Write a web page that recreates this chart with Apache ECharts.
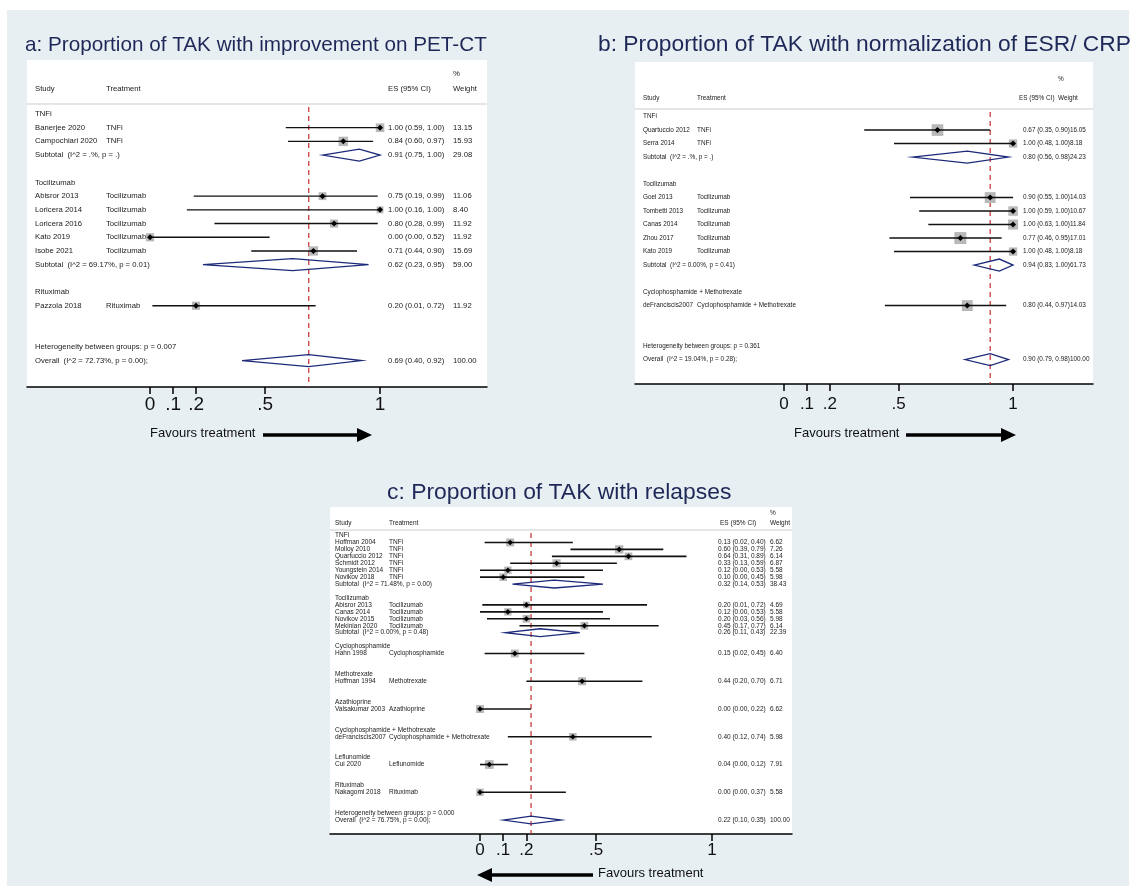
<!DOCTYPE html>
<html>
<head>
<meta charset="utf-8">
<script src="https://cdn.jsdelivr.net/npm/echarts@6/dist/echarts.min.js"></script>
<style>
html, body { margin: 0; padding: 0; background: #fff; }
#main {
    width: 1136px; height: 893px;
    background: linear-gradient(#e8eff2, #e8eff2) 7px 10px / 1122px 876px no-repeat, #fff;
}
</style>
</head>
<body>
<div id="main"></div>
<script>
var FONT = '"Liberation Sans", Arial, Helvetica, sans-serif';
var RED = '#c2302f';
var NAVY = '#1d2a7a';

// x axis ticks
var tickVals = [0, 0.1, 0.2, 0.5, 1];
var tickText = ['0', '.1', '.2', '.5', '1'];

// a: improvement on PET-CT
var aGroups = ['TNFi', 'Tocilizumab', 'Rituximab'];
var aStudy = ['Banerjee 2020', 'Campochiari 2020', 'Abisror 2013', 'Loricera 2014', 'Loricera 2016', 'Kato 2019', 'Isobe 2021', 'Pazzola 2018'];
var aTreat = ['TNFi', 'TNFi', 'Tocilizumab', 'Tocilizumab', 'Tocilizumab', 'Tocilizumab', 'Tocilizumab', 'Rituximab'];
var aGroupOf = [0, 0, 1, 1, 1, 1, 1, 2];
var aES = [1.00, 0.84, 0.75, 1.00, 0.80, 0.00, 0.71, 0.20];
var aLo = [0.59, 0.60, 0.19, 0.16, 0.28, 0.00, 0.44, 0.01];
var aHi = [1.00, 0.97, 0.99, 1.00, 0.99, 0.52, 0.90, 0.72];
var aWt = [13.15, 15.93, 11.06, 8.40, 11.92, 11.92, 15.69, 11.92];
var aSubHet = ['I^2 = .%, p = .', 'I^2 = 69.17%, p = 0.01', ''];
var aSubES = [0.91, 0.62, null];
var aSubLo = [0.75, 0.23, null];
var aSubHi = [1.00, 0.95, null];
var aSubWt = [29.08, 59.00, null];
var aBetween = 'p = 0.007';
var aOverallHet = 'I^2 = 72.73%, p = 0.00';
var aOverall = [0.69, 0.40, 0.92, 100.00];

// b: normalization of ESR/CRP
var bGroups = ['TNFi', 'Tocilizumab', 'Cyclophosphamide + Methotrexate'];
var bStudy = ['Quartuccio 2012', 'Serra 2014', 'Goel 2013', 'Tombetti 2013', 'Canas 2014', 'Zhou 2017', 'Kato 2019', 'deFranciscis2007'];
var bTreat = ['TNFi', 'TNFi', 'Tocilizumab', 'Tocilizumab', 'Tocilizumab', 'Tocilizumab', 'Tocilizumab', 'Cyclophosphamide + Methotrexate'];
var bGroupOf = [0, 0, 1, 1, 1, 1, 1, 2];
var bES = [0.67, 1.00, 0.90, 1.00, 1.00, 0.77, 1.00, 0.80];
var bLo = [0.35, 0.48, 0.55, 0.59, 0.63, 0.46, 0.48, 0.44];
var bHi = [0.90, 1.00, 1.00, 1.00, 1.00, 0.95, 1.00, 0.97];
var bWt = [16.05, 8.18, 14.03, 10.67, 11.84, 17.01, 8.18, 14.03];
var bSubHet = ['I^2 = .%, p = .', 'I^2 = 0.00%, p = 0.41', ''];
var bSubES = [0.80, 0.94, null];
var bSubLo = [0.56, 0.83, null];
var bSubHi = [0.98, 1.00, null];
var bSubWt = [24.23, 61.73, null];
var bBetween = 'p = 0.361';
var bOverallHet = 'I^2 = 19.04%, p = 0.28';
var bOverall = [0.90, 0.79, 0.98, 100.00];

// c: relapses
var cGroups = ['TNFi', 'Tocilizumab', 'Cyclophosphamide', 'Methotrexate', 'Azathioprine', 'Cyclophosphamide + Methotrexate', 'Leflunomide', 'Rituximab'];
var cStudy = ['Hoffman 2004', 'Molloy 2010', 'Quartuccio 2012', 'Schmidt 2012', 'Youngstein 2014', 'Novikov 2018',
    'Abisror 2013', 'Canas 2014', 'Novikov 2015', 'Mekinian 2020',
    'Hahn 1998', 'Hoffman 1994', 'Valsakumar 2003', 'deFranciscis2007', 'Cui 2020', 'Nakagomi 2018'];
var cTreat = ['TNFi', 'TNFi', 'TNFi', 'TNFi', 'TNFi', 'TNFi',
    'Tocilizumab', 'Tocilizumab', 'Tocilizumab', 'Tocilizumab',
    'Cyclophosphamide', 'Methotrexate', 'Azathioprine', 'Cyclophosphamide + Methotrexate', 'Leflunomide', 'Rituximab'];
var cGroupOf = [0, 0, 0, 0, 0, 0, 1, 1, 1, 1, 2, 3, 4, 5, 6, 7];
var cES = [0.13, 0.60, 0.64, 0.33, 0.12, 0.10, 0.20, 0.12, 0.20, 0.45, 0.15, 0.44, 0.00, 0.40, 0.04, 0.00];
var cLo = [0.02, 0.39, 0.31, 0.13, 0.00, 0.00, 0.01, 0.00, 0.03, 0.17, 0.02, 0.20, 0.00, 0.12, 0.00, 0.00];
var cHi = [0.40, 0.79, 0.89, 0.59, 0.53, 0.45, 0.72, 0.53, 0.56, 0.77, 0.45, 0.70, 0.22, 0.74, 0.12, 0.37];
var cWt = [6.62, 7.26, 6.14, 6.87, 5.58, 5.98, 4.69, 5.58, 5.98, 6.14, 6.40, 6.71, 6.62, 5.98, 7.91, 5.58];
var cSubHet = ['I^2 = 71.48%, p = 0.00', 'I^2 = 0.00%, p = 0.48', '', '', '', '', '', ''];
var cSubES = [0.32, 0.26, null, null, null, null, null, null];
var cSubLo = [0.14, 0.11, null, null, null, null, null, null];
var cSubHi = [0.53, 0.43, null, null, null, null, null, null];
var cSubWt = [38.43, 22.39, null, null, null, null, null, null];
var cBetween = 'p = 0.000';
var cOverallHet = 'I^2 = 76.75%, p = 0.00';
var cOverall = [0.22, 0.10, 0.35, 100.00];

// layout of each panel (pixels)
var layA = {left: 27, top: 60, width: 460, height: 327, xMin: -0.535, xMax: 1.465, yMin: -3.94, yMax: 19.93,
    fs: 7.7, study: 8, treat: 79, es: 361, wt: 426, esHead: 361, wtHead: 426, joinWt: false,
    pctY: 14, headY: 29, sepY: 44, box: 2.35, mk: 3, lw: 1.4, dia: 6, tickFs: 19, tickMargin: 8};
var layB = {left: 635, top: 62, width: 458, height: 322, xMin: -0.651, xMax: 1.349, yMin: -4.04, yMax: 19.81,
    fs: 6.4, study: 8, treat: 62, es: 388, wt: 428, esHead: 384, wtHead: 423, joinWt: true,
    pctY: 17, headY: 36, sepY: 47, box: 2.9, mk: 3, lw: 1.4, dia: 6, tickFs: 17, tickMargin: 12};
var layC = {left: 330, top: 507, width: 462, height: 327, xMin: -0.6466, xMax: 1.3448, yMin: -4.11, yMax: 43.01,
    fs: 6.5, study: 5, treat: 59, es: 388, wt: 440, esHead: 390, wtHead: 440, joinWt: false,
    pctY: 6, headY: 16, sepY: 23, box: 3.1, mk: 2.8, lw: 1.6, dia: 3.9, tickFs: 17, tickMargin: 8};

function fmtCI(es, lo, hi) {
    return es.toFixed(2) + ' (' + lo.toFixed(2) + ', ' + hi.toFixed(2) + ')';
}

// turn the arrays of one panel into table rows
function buildRows(d) {
    var rows = [{kind: 'ref', es: d.overall[0]}, {kind: 'head'}];
    var r = 0;
    d.groups.forEach(function (g, gi) {
        rows.push({kind: 'group', row: r++, text: g});
        var n = 0;
        d.study.forEach(function (s, i) {
            if (d.groupOf[i] !== gi) return;
            rows.push({kind: 'study', row: r++, study: s, treat: d.treat[i],
                es: d.es[i], lo: d.lo[i], hi: d.hi[i], wt: d.wt[i]});
            n++;
        });
        if (n > 1) {
            rows.push({kind: 'pool', row: r, text: 'Subtotal  (' + d.subHet[gi] + ')',
                es: d.subES[gi], lo: d.subLo[gi], hi: d.subHi[gi], wt: d.subWt[gi]});
        }
        r += 2;
    });
    rows.push({kind: 'group', row: r++, text: 'Heterogeneity between groups: ' + d.between});
    rows.push({kind: 'pool', row: r, text: 'Overall  (' + d.overallHet + ');',
        es: d.overall[0], lo: d.overall[1], hi: d.overall[2], wt: d.overall[3]});
    return rows;
}

function makeRender(lay, rows) {
    return function (params, api) {
        var d = rows[params.dataIndex];
        var cs = params.coordSys;
        var kids = [];
        function X(v) { return api.coord([v, 0])[0]; }
        function Y(v) { return api.coord([0, v])[1]; }
        function T(s, x, y) {
            kids.push({type: 'text', style: {text: s, x: x, y: y, fill: '#1a1a1a',
                fontSize: lay.fs, fontFamily: FONT,
                align: 'left', verticalAlign: 'middle', textAlign: 'left', textVerticalAlign: 'middle'}});
        }
        function valueText(y) {
            if (lay.joinWt) {
                T(fmtCI(d.es, d.lo, d.hi) + d.wt.toFixed(2), cs.x + lay.es, y);
            } else {
                T(fmtCI(d.es, d.lo, d.hi), cs.x + lay.es, y);
                T(d.wt.toFixed(2), cs.x + lay.wt, y);
            }
        }
        if (d.kind === 'ref') {
            kids.push({type: 'line',
                shape: {x1: X(d.es), y1: cs.y + lay.sepY + 3, x2: X(d.es), y2: cs.y + cs.height},
                style: {stroke: RED, lineWidth: 1.2, lineDash: [5, 4]}});
        } else if (d.kind === 'head') {
            T('%', cs.x + lay.wtHead, cs.y + lay.pctY);
            T('Study', cs.x + lay.study, cs.y + lay.headY);
            T('Treatment', cs.x + lay.treat, cs.y + lay.headY);
            T('ES (95% CI)', cs.x + lay.esHead, cs.y + lay.headY);
            T('Weight', cs.x + lay.wtHead, cs.y + lay.headY);
            kids.push({type: 'line',
                shape: {x1: cs.x, y1: cs.y + lay.sepY, x2: cs.x + cs.width, y2: cs.y + lay.sepY},
                style: {stroke: '#cdcdcd', lineWidth: 1}});
        } else if (d.kind === 'group') {
            T(d.text, cs.x + lay.study, Y(d.row));
        } else if (d.kind === 'study') {
            var y = Y(d.row);
            var cx = X(d.es);
            var s = lay.box * Math.sqrt(d.wt);
            kids.push({type: 'rect', shape: {x: cx - s / 2, y: y - s / 2, width: s, height: s},
                style: {fill: '#b8b8b8'}});
            kids.push({type: 'line', shape: {x1: X(d.lo), y1: y, x2: X(d.hi), y2: y},
                style: {stroke: '#111', lineWidth: lay.lw}});
            var m = lay.mk;
            kids.push({type: 'polygon', shape: {points: [[cx - m, y], [cx, y - m], [cx + m, y], [cx, y + m]]},
                style: {fill: '#000'}});
            T(d.study, cs.x + lay.study, y);
            T(d.treat, cs.x + lay.treat, y);
            valueText(y);
        } else if (d.kind === 'pool') {
            var yy = Y(d.row);
            var h = lay.dia;
            kids.push({type: 'polygon',
                shape: {points: [[X(d.lo), yy], [X(d.es), yy - h], [X(d.hi), yy], [X(d.es), yy + h]]},
                style: {fill: 'none', stroke: NAVY, lineWidth: 1.3}});
            T(d.text, cs.x + lay.study, yy);
            valueText(yy);
        }
        return {type: 'group', children: kids};
    };
}

var panels = [
    {lay: layA, rows: buildRows({groups: aGroups, study: aStudy, treat: aTreat, groupOf: aGroupOf,
        es: aES, lo: aLo, hi: aHi, wt: aWt, subHet: aSubHet, subES: aSubES, subLo: aSubLo, subHi: aSubHi,
        subWt: aSubWt, between: aBetween, overallHet: aOverallHet, overall: aOverall})},
    {lay: layB, rows: buildRows({groups: bGroups, study: bStudy, treat: bTreat, groupOf: bGroupOf,
        es: bES, lo: bLo, hi: bHi, wt: bWt, subHet: bSubHet, subES: bSubES, subLo: bSubLo, subHi: bSubHi,
        subWt: bSubWt, between: bBetween, overallHet: bOverallHet, overall: bOverall})},
    {lay: layC, rows: buildRows({groups: cGroups, study: cStudy, treat: cTreat, groupOf: cGroupOf,
        es: cES, lo: cLo, hi: cHi, wt: cWt, subHet: cSubHet, subES: cSubES, subLo: cSubLo, subHi: cSubHi,
        subWt: cSubWt, between: cBetween, overallHet: cOverallHet, overall: cOverall})}
];

function tickFmt(v) {
    for (var k = 0; k < tickVals.length; k++) {
        if (Math.abs(v - tickVals[k]) < 1e-9) return tickText[k];
    }
    return '';
}

function title(text, x, y, size) {
    return {type: 'text', left: x, top: y - size * 0.6, z: 10,
        style: {text: text, fill: '#1e2858', fontSize: size, fontFamily: FONT}};
}

function favours(textX, y, x1, x2, left) {
    var head = left
        ? [[x1, y], [x1 + 15, y - 7], [x1 + 15, y + 7]]
        : [[x2, y], [x2 - 15, y - 7], [x2 - 15, y + 7]];
    return [
        {type: 'text', left: textX, top: y - 8, z: 10,
            style: {text: 'Favours treatment', fill: '#111', fontSize: 13, fontFamily: FONT}},
        {type: 'line', z: 10, shape: {x1: left ? x1 + 12 : x1, y1: y, x2: left ? x2 : x2 - 12, y2: y},
            style: {stroke: '#000', lineWidth: 3.5}},
        {type: 'polygon', z: 10, shape: {points: head}, style: {fill: '#000'}}
    ];
}

var myChart = echarts.init(document.getElementById('main'));

var option = {
    animation: false,
    backgroundColor: 'transparent',
    grid: panels.map(function (p) {
        return {left: p.lay.left, top: p.lay.top, width: p.lay.width, height: p.lay.height,
            show: true, backgroundColor: '#fff', borderWidth: 0};
    }),
    xAxis: panels.map(function (p, i) {
        return {
            gridIndex: i, type: 'value', min: p.lay.xMin, max: p.lay.xMax,
            axisLine: {onZero: false, lineStyle: {color: '#000', width: 1.5}},
            axisTick: {customValues: tickVals, length: 7, lineStyle: {color: '#000', width: 1.5}},
            axisLabel: {customValues: tickVals, formatter: tickFmt, color: '#111',
                fontSize: p.lay.tickFs, fontFamily: FONT, margin: p.lay.tickMargin},
            splitLine: {show: false}
        };
    }),
    yAxis: panels.map(function (p, i) {
        return {gridIndex: i, type: 'value', inverse: true, min: p.lay.yMin, max: p.lay.yMax, show: false};
    }),
    series: panels.map(function (p, i) {
        return {
            type: 'custom', xAxisIndex: i, yAxisIndex: i, clip: false, silent: true,
            data: p.rows.map(function (r) {
                return [r.es != null ? r.es : 0, r.row != null ? r.row : 0];
            }),
            renderItem: makeRender(p.lay, p.rows)
        };
    }),
    graphic: [
        title('a: Proportion of TAK with improvement on PET-CT', 25, 47, 20.7),
        title('b: Proportion of TAK with normalization of ESR/ CRP', 598, 47, 22.8),
        title('c: Proportion of TAK with relapses', 387, 495, 22.9)
    ].concat(favours(150, 435, 263, 372, false))
     .concat(favours(794, 435, 906, 1016, false))
     .concat(favours(598, 875, 477, 593, true))
};

myChart.setOption(option);
window.addEventListener('resize', function () {
    myChart.resize();
});
</script>
</body>
</html>
